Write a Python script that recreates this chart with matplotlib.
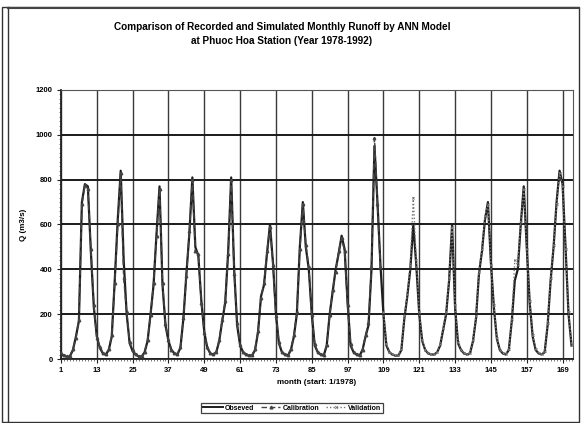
import matplotlib
matplotlib.use("Agg")
import matplotlib.pyplot as plt
from matplotlib.lines import Line2D
from matplotlib.patches import Rectangle
import numpy as np

plt.rcParams['font.family'] = ['Liberation Sans', 'DejaVu Sans']

title = "Comparison of Recorded and Simulated Monthly Runoff by ANN Model\nat Phuoc Hoa Station (Year 1978-1992)"
xlabel = "month (start: 1/1978)"
ylabel = "Q (m3/s)"
xtick_labels = [1, 13, 25, 37, 49, 61, 73, 85, 97, 109, 121, 133, 145, 157, 169]
ytick_labels = [0, 200, 400, 600, 800, 1000, 1200]
legend_labels = ["Obseved", "Calibration", "Validation"]

# Observed monthly runoff, months 1..172
observed = [
    20, 15, 10, 12, 40, 100, 170, 700, 780, 770, 480, 230,          # 1978
    100, 50, 25, 20, 40, 100, 350, 620, 840, 440, 200, 70,          # 1979
    35, 20, 12, 10, 30, 80, 200, 330, 560, 770, 330, 150,           # 1980
    80, 40, 25, 20, 50, 180, 380, 560, 810, 500, 460, 260,          # 1981
    120, 50, 25, 20, 30, 80, 170, 250, 480, 810, 400, 150,          # 1982
    60, 30, 20, 15, 15, 40, 120, 280, 330, 470, 600, 430,           # 1983
    200, 70, 30, 20, 15, 40, 100, 200, 500, 700, 500, 400,          # 1984
    200, 60, 30, 20, 15, 60, 200, 300, 400, 470, 550, 490,          # 1985
    250, 60, 30, 20, 15, 40, 100, 150, 400, 950, 700, 420,          # 1986
    200, 60, 30, 20, 15, 15, 40, 180, 280, 400, 600, 420,           # 1987
    200, 80, 40, 25, 20, 20, 30, 60, 130, 200, 350, 600,            # 1988
    230, 70, 40, 25, 20, 25, 80, 180, 380, 480, 620, 700,           # 1989
    430, 230, 90, 40, 25, 20, 40, 170, 350, 400, 600, 770,          # 1990
    500, 250, 100, 40, 25, 20, 30, 150, 350, 500, 700, 840,         # 1991
    780, 500, 200, 60,                                              # 1992
]
months = list(range(1, len(observed) + 1))

# ANN calibration output, months 1..108
calibration = [
    25, 18, 12, 15, 45, 95, 175, 690, 775, 760, 490, 240,
    95, 55, 28, 22, 45, 105, 340, 600, 830, 360, 210, 75,
    38, 22, 14, 12, 32, 85, 195, 340, 550, 760, 340, 155,
    85, 42, 28, 22, 55, 185, 370, 570, 800, 480, 470, 250,
    115, 52, 28, 22, 32, 85, 175, 260, 470, 800, 380, 160,
    62, 32, 22, 18, 18, 45, 125, 270, 340, 480, 590, 420,
    190, 75, 32, 22, 18, 45, 105, 210, 490, 690, 510, 410,
    195, 65, 32, 22, 18, 62, 195, 310, 390, 480, 540, 480,
    240, 65, 32, 22, 18, 42, 105, 160, 410, 985, 690, 410,
]
cal_months = list(range(1, len(calibration) + 1))

# ANN validation output, months 109..172
validation = [
    210, 65, 32, 22, 18, 18, 45, 190, 290, 420, 720, 440,
    210, 85, 42, 28, 22, 22, 32, 65, 140, 210, 360, 590,
    240, 75, 42, 28, 22, 28, 85, 190, 390, 490, 640, 690,
    420, 240, 95, 42, 28, 22, 45, 180, 440, 420, 610, 760,
    490, 260, 105, 45, 28, 22, 35, 160, 360, 510, 690, 830,
    770, 490, 210, 65,
]
val_months = list(range(109, 109 + len(validation)))

fig = plt.figure(figsize=(5.81, 4.23), dpi=100)
ax = fig.add_axes([61/581, 1 - 359/423, (573 - 61)/581, (359 - 90)/423])

ax.plot(months, observed, color='#1e1e1e', lw=1.6, zorder=3)
ax.plot(cal_months, calibration, color='#444444', lw=1.1, ls=(0, (4, 2)),
        marker='^', ms=1.8, zorder=4)
ax.plot(val_months, validation, color='#7a7a7a', lw=1.0, ls=(0, (1, 1.5)),
        marker='x', ms=1.6, mew=0.6, zorder=4)

ax.set_xlim(1, 172.5)
ax.set_ylim(0, 1200)
ax.set_xticks(xtick_labels)
ax.set_xticklabels([str(v) for v in xtick_labels], fontsize=5.5, fontweight='bold')
ax.set_yticks(ytick_labels)
ax.set_yticklabels([str(v) for v in ytick_labels], fontsize=5.5, fontweight='bold')
ax.set_yticks(np.arange(0, 1201, 20), minor=True)
ax.set_xticks(np.arange(1, 173, 1), minor=True)
ax.tick_params(axis='both', which='major', length=3, width=0.8, pad=3, color='#222222')
ax.tick_params(axis='both', which='minor', length=1.5, width=0.5, color='#444444')
ax.grid(True, axis='y', which='major', color='#1a1a1a', lw=1.4)
ax.grid(True, axis='x', which='major', color='#3a3a3a', lw=1.0)
ax.set_axisbelow(True)
for s in ['left', 'bottom']:
    ax.spines[s].set_linewidth(1.3)
    ax.spines[s].set_color('#222222')
ax.spines['top'].set_linestyle((0, (1, 1)))
ax.spines['top'].set_color('#555555')
ax.spines['right'].set_linestyle((0, (1, 1)))
ax.spines['right'].set_color('#555555')

ax.set_xlabel(xlabel, fontsize=5.8, fontweight='bold', labelpad=3)
ax.set_ylabel(ylabel, fontsize=5.8, fontweight='bold', labelpad=6)

fig.text(282/581, 1 - 34/423, title, ha='center', va='center',
         fontsize=7.2, fontweight='bold', linespacing=1.4)

handles = [
    Line2D([], [], color='#1e1e1e', lw=1.4),
    Line2D([], [], color='#444444', lw=1.0, ls=(0, (4, 2)), marker='^', ms=2),
    Line2D([], [], color='#777777', lw=1.0, ls=(0, (1, 1.5)), marker='x', ms=2, mew=0.6),
]
leg = fig.legend(handles, legend_labels, loc='center', ncol=3,
                 bbox_to_anchor=(292/581, 1 - 408/423),
                 prop={'weight': 'bold', 'size': 5.0},
                 frameon=True, fancybox=False, handlelength=2.8, handletextpad=0.3,
                 columnspacing=1.0, borderpad=0.25, borderaxespad=0)
leg.get_frame().set_edgecolor('#111111')
leg.get_frame().set_linewidth(0.9)

# outer frame of the scanned figure
fig.patches.append(Rectangle((2/581, 1/423), 577/581, 415/423, transform=fig.transFigure,
                             fill=False, ec='#333333', lw=1.0))
fig.lines.append(Line2D([8/581, 8/581], [1/423, 416/423], transform=fig.transFigure,
                        color='#333333', lw=1.0))
fig.lines.append(Line2D([8/581, 579/581], [415/423, 415/423],
                        transform=fig.transFigure, color='#444444', lw=1.5))

fig.savefig("out.png", dpi=100)
